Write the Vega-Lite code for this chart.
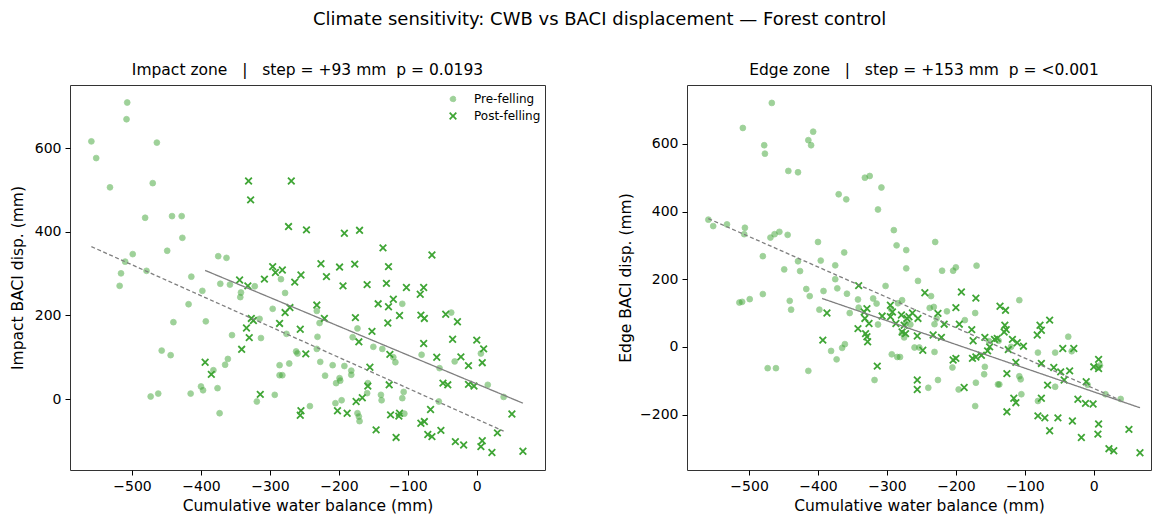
{
  "$schema": "https://vega.github.io/schema/vega-lite/v6.json",
  "background": "white",
  "padding": {"left": 9, "top": 11, "right": 0, "bottom": 0},
  "title": {
    "text": "Climate sensitivity: CWB vs BACI displacement — Forest control",
    "font": "DejaVu Sans", "fontSize": 18, "fontWeight": "normal", "color": "#000000",
    "anchor": "middle", "offset": 33, "dx": 19
  },
  "bounds": "flush",
  "spacing": 142,
  "datasets": {
    "impact": [
      {"series":"Pre-felling","cwb":-507,"disp":710},{"series":"Pre-felling","cwb":-508,"disp":670},{"series":"Pre-felling","cwb":-559,"disp":617},{"series":"Pre-felling","cwb":-552,"disp":577},
      {"series":"Pre-felling","cwb":-464,"disp":614},{"series":"Pre-felling","cwb":-532,"disp":507},{"series":"Pre-felling","cwb":-470,"disp":517},{"series":"Pre-felling","cwb":-481,"disp":434},
      {"series":"Pre-felling","cwb":-442,"disp":438},{"series":"Pre-felling","cwb":-428,"disp":438},{"series":"Pre-felling","cwb":-427,"disp":386},{"series":"Pre-felling","cwb":-449,"disp":355},
      {"series":"Pre-felling","cwb":-499,"disp":347},{"series":"Pre-felling","cwb":-510,"disp":329},{"series":"Pre-felling","cwb":-516,"disp":301},{"series":"Pre-felling","cwb":-479,"disp":307},
      {"series":"Pre-felling","cwb":-414,"disp":293},{"series":"Pre-felling","cwb":-375,"disp":342},{"series":"Pre-felling","cwb":-363,"disp":338},{"series":"Pre-felling","cwb":-284,"disp":287},
      {"series":"Pre-felling","cwb":-518,"disp":271},{"series":"Pre-felling","cwb":-398,"disp":259},{"series":"Pre-felling","cwb":-372,"disp":276},{"series":"Pre-felling","cwb":-358,"disp":274},
      {"series":"Pre-felling","cwb":-343,"disp":244},{"series":"Pre-felling","cwb":-342,"disp":255},{"series":"Pre-felling","cwb":-322,"disp":270},{"series":"Pre-felling","cwb":-278,"disp":254},
      {"series":"Pre-felling","cwb":-418,"disp":227},{"series":"Pre-felling","cwb":-440,"disp":184},{"series":"Pre-felling","cwb":-393,"disp":186},{"series":"Pre-felling","cwb":-355,"disp":153},
      {"series":"Pre-felling","cwb":-315,"disp":192},{"series":"Pre-felling","cwb":-313,"disp":146},{"series":"Pre-felling","cwb":-296,"disp":216},{"series":"Pre-felling","cwb":-276,"disp":156},
      {"series":"Pre-felling","cwb":-262,"disp":114},{"series":"Pre-felling","cwb":-260,"disp":109},{"series":"Pre-felling","cwb":-272,"disp":85},{"series":"Pre-felling","cwb":-286,"disp":81},
      {"series":"Pre-felling","cwb":-286,"disp":57},{"series":"Pre-felling","cwb":-282,"disp":57},{"series":"Pre-felling","cwb":-457,"disp":116},{"series":"Pre-felling","cwb":-444,"disp":105},
      {"series":"Pre-felling","cwb":-382,"disp":69},{"series":"Pre-felling","cwb":-361,"disp":96},{"series":"Pre-felling","cwb":-365,"disp":82},{"series":"Pre-felling","cwb":-473,"disp":6},
      {"series":"Pre-felling","cwb":-462,"disp":13},{"series":"Pre-felling","cwb":-415,"disp":13},{"series":"Pre-felling","cwb":-400,"disp":30},{"series":"Pre-felling","cwb":-397,"disp":21},
      {"series":"Pre-felling","cwb":-376,"disp":26},{"series":"Pre-felling","cwb":-373,"disp":-34},{"series":"Pre-felling","cwb":-319,"disp":-6},{"series":"Pre-felling","cwb":-293,"disp":10},
      {"series":"Pre-felling","cwb":-242,"disp":-17},{"series":"Pre-felling","cwb":-232,"disp":211},{"series":"Pre-felling","cwb":-228,"disp":182},{"series":"Pre-felling","cwb":-173,"disp":169},
      {"series":"Pre-felling","cwb":-231,"disp":149},{"series":"Pre-felling","cwb":-180,"disp":148},{"series":"Pre-felling","cwb":-232,"disp":120},{"series":"Pre-felling","cwb":-227,"disp":89},
      {"series":"Pre-felling","cwb":-209,"disp":81},{"series":"Pre-felling","cwb":-220,"disp":56},{"series":"Pre-felling","cwb":-204,"disp":38},{"series":"Pre-felling","cwb":-199,"disp":50},
      {"series":"Pre-felling","cwb":-198,"disp":44},{"series":"Pre-felling","cwb":-205,"disp":-10},{"series":"Pre-felling","cwb":-196,"disp":-3},{"series":"Pre-felling","cwb":-192,"disp":79},
      {"series":"Pre-felling","cwb":-182,"disp":68},{"series":"Pre-felling","cwb":-182,"disp":58},{"series":"Pre-felling","cwb":-158,"disp":38},{"series":"Pre-felling","cwb":-159,"disp":14},
      {"series":"Pre-felling","cwb":-173,"disp":-34},{"series":"Pre-felling","cwb":-171,"disp":-42},{"series":"Pre-felling","cwb":-170,"disp":-53},{"series":"Pre-felling","cwb":-150,"disp":125},
      {"series":"Pre-felling","cwb":-137,"disp":120},{"series":"Pre-felling","cwb":-121,"disp":100},{"series":"Pre-felling","cwb":-118,"disp":88},{"series":"Pre-felling","cwb":-139,"disp":10},
      {"series":"Pre-felling","cwb":-138,"disp":-3},{"series":"Pre-felling","cwb":-106,"disp":17},{"series":"Pre-felling","cwb":-108,"disp":2},{"series":"Pre-felling","cwb":-105,"disp":-35},
      {"series":"Pre-felling","cwb":-108,"disp":228},{"series":"Pre-felling","cwb":-80,"disp":106},{"series":"Pre-felling","cwb":-54,"disp":74},{"series":"Pre-felling","cwb":-55,"disp":-6},
      {"series":"Pre-felling","cwb":-37,"disp":207},{"series":"Pre-felling","cwb":-32,"disp":90},{"series":"Pre-felling","cwb":6,"disp":109},{"series":"Pre-felling","cwb":16,"disp":34},
      {"series":"Pre-felling","cwb":39,"disp":5},
      {"series":"Post-felling","cwb":-331,"disp":522},{"series":"Post-felling","cwb":-269,"disp":522},{"series":"Post-felling","cwb":-328,"disp":477},{"series":"Post-felling","cwb":-273,"disp":413},
      {"series":"Post-felling","cwb":-247,"disp":405},{"series":"Post-felling","cwb":-296,"disp":317},{"series":"Post-felling","cwb":-292,"disp":303},{"series":"Post-felling","cwb":-282,"disp":309},
      {"series":"Post-felling","cwb":-255,"disp":297},{"series":"Post-felling","cwb":-344,"disp":285},{"series":"Post-felling","cwb":-308,"disp":287},{"series":"Post-felling","cwb":-192,"disp":397},
      {"series":"Post-felling","cwb":-170,"disp":404},{"series":"Post-felling","cwb":-136,"disp":362},{"series":"Post-felling","cwb":-128,"disp":317},{"series":"Post-felling","cwb":-131,"disp":277},
      {"series":"Post-felling","cwb":-159,"disp":274},{"series":"Post-felling","cwb":-177,"disp":323},{"series":"Post-felling","cwb":-199,"disp":316},{"series":"Post-felling","cwb":-218,"disp":293},
      {"series":"Post-felling","cwb":-194,"disp":271},{"series":"Post-felling","cwb":-226,"disp":324},{"series":"Post-felling","cwb":-264,"disp":280},{"series":"Post-felling","cwb":-332,"disp":271},
      {"series":"Post-felling","cwb":-271,"disp":219},{"series":"Post-felling","cwb":-278,"disp":207},{"series":"Post-felling","cwb":-232,"disp":225},{"series":"Post-felling","cwb":-221,"disp":193},
      {"series":"Post-felling","cwb":-286,"disp":181},{"series":"Post-felling","cwb":-327,"disp":193},{"series":"Post-felling","cwb":-324,"disp":188},{"series":"Post-felling","cwb":-334,"disp":170},
      {"series":"Post-felling","cwb":-256,"disp":167},{"series":"Post-felling","cwb":-330,"disp":147},{"series":"Post-felling","cwb":-176,"disp":195},{"series":"Post-felling","cwb":-143,"disp":228},
      {"series":"Post-felling","cwb":-128,"disp":221},{"series":"Post-felling","cwb":-121,"disp":239},{"series":"Post-felling","cwb":-112,"disp":200},{"series":"Post-felling","cwb":-129,"disp":182},
      {"series":"Post-felling","cwb":-152,"disp":162},{"series":"Post-felling","cwb":-65,"disp":345},{"series":"Post-felling","cwb":-102,"disp":267},{"series":"Post-felling","cwb":-77,"disp":267},
      {"series":"Post-felling","cwb":-82,"disp":251},{"series":"Post-felling","cwb":-81,"disp":201},{"series":"Post-felling","cwb":-76,"disp":193},{"series":"Post-felling","cwb":-45,"disp":203},
      {"series":"Post-felling","cwb":-28,"disp":185},{"series":"Post-felling","cwb":-171,"disp":137},{"series":"Post-felling","cwb":-77,"disp":133},{"series":"Post-felling","cwb":-35,"disp":143},
      {"series":"Post-felling","cwb":0,"disp":141},{"series":"Post-felling","cwb":10,"disp":120},{"series":"Post-felling","cwb":8,"disp":87},{"series":"Post-felling","cwb":-23,"disp":101},
      {"series":"Post-felling","cwb":-12,"disp":80},{"series":"Post-felling","cwb":-58,"disp":100},{"series":"Post-felling","cwb":-248,"disp":108},{"series":"Post-felling","cwb":-126,"disp":107},
      {"series":"Post-felling","cwb":-155,"disp":76},{"series":"Post-felling","cwb":-127,"disp":34},{"series":"Post-felling","cwb":-158,"disp":31},{"series":"Post-felling","cwb":-166,"disp":3},
      {"series":"Post-felling","cwb":-175,"disp":-6},{"series":"Post-felling","cwb":-202,"disp":-28},{"series":"Post-felling","cwb":-188,"disp":-34},{"series":"Post-felling","cwb":-255,"disp":-28},
      {"series":"Post-felling","cwb":-256,"disp":-39},{"series":"Post-felling","cwb":-125,"disp":-38},{"series":"Post-felling","cwb":-112,"disp":-34},{"series":"Post-felling","cwb":-113,"disp":-41},
      {"series":"Post-felling","cwb":-146,"disp":-74},{"series":"Post-felling","cwb":-117,"disp":-92},{"series":"Post-felling","cwb":-81,"disp":-58},{"series":"Post-felling","cwb":-76,"disp":-54},
      {"series":"Post-felling","cwb":-67,"disp":-25},{"series":"Post-felling","cwb":-71,"disp":-85},{"series":"Post-felling","cwb":-65,"disp":-90},{"series":"Post-felling","cwb":-52,"disp":-75},
      {"series":"Post-felling","cwb":-49,"disp":38},{"series":"Post-felling","cwb":-42,"disp":34},{"series":"Post-felling","cwb":-12,"disp":35},{"series":"Post-felling","cwb":-4,"disp":31},
      {"series":"Post-felling","cwb":-31,"disp":-102},{"series":"Post-felling","cwb":-19,"disp":-110},{"series":"Post-felling","cwb":8,"disp":-100},{"series":"Post-felling","cwb":6,"disp":-114},
      {"series":"Post-felling","cwb":22,"disp":-128},{"series":"Post-felling","cwb":30,"disp":-81},{"series":"Post-felling","cwb":51,"disp":-36},{"series":"Post-felling","cwb":67,"disp":-125},
      {"series":"Post-felling","cwb":-341,"disp":119},{"series":"Post-felling","cwb":-394,"disp":88},{"series":"Post-felling","cwb":-385,"disp":59},{"series":"Post-felling","cwb":-314,"disp":11}
    ],
    "edge": [
      {"series":"Pre-felling","cwb":-467,"disp":721},{"series":"Pre-felling","cwb":-509,"disp":647},{"series":"Pre-felling","cwb":-478,"disp":596},{"series":"Pre-felling","cwb":-477,"disp":571},
      {"series":"Pre-felling","cwb":-407,"disp":636},{"series":"Pre-felling","cwb":-414,"disp":611},{"series":"Pre-felling","cwb":-410,"disp":596},{"series":"Pre-felling","cwb":-443,"disp":520},
      {"series":"Pre-felling","cwb":-429,"disp":516},{"series":"Pre-felling","cwb":-332,"disp":500},{"series":"Pre-felling","cwb":-325,"disp":505},{"series":"Pre-felling","cwb":-308,"disp":471},
      {"series":"Pre-felling","cwb":-370,"disp":451},{"series":"Pre-felling","cwb":-359,"disp":436},{"series":"Pre-felling","cwb":-313,"disp":406},{"series":"Pre-felling","cwb":-290,"disp":345},
      {"series":"Pre-felling","cwb":-286,"disp":300},{"series":"Pre-felling","cwb":-272,"disp":286},{"series":"Pre-felling","cwb":-272,"disp":232},{"series":"Pre-felling","cwb":-559,"disp":376},
      {"series":"Pre-felling","cwb":-552,"disp":357},{"series":"Pre-felling","cwb":-532,"disp":362},{"series":"Pre-felling","cwb":-506,"disp":352},{"series":"Pre-felling","cwb":-507,"disp":333},
      {"series":"Pre-felling","cwb":-469,"disp":323},{"series":"Pre-felling","cwb":-463,"disp":333},{"series":"Pre-felling","cwb":-456,"disp":340},{"series":"Pre-felling","cwb":-444,"disp":331},
      {"series":"Pre-felling","cwb":-480,"disp":268},{"series":"Pre-felling","cwb":-400,"disp":310},{"series":"Pre-felling","cwb":-396,"disp":255},{"series":"Pre-felling","cwb":-362,"disp":279},
      {"series":"Pre-felling","cwb":-375,"disp":241},{"series":"Pre-felling","cwb":-449,"disp":229},{"series":"Pre-felling","cwb":-426,"disp":224},{"series":"Pre-felling","cwb":-375,"disp":200},
      {"series":"Pre-felling","cwb":-230,"disp":310},{"series":"Pre-felling","cwb":-220,"disp":225},{"series":"Pre-felling","cwb":-204,"disp":225},{"series":"Pre-felling","cwb":-200,"disp":235},
      {"series":"Pre-felling","cwb":-170,"disp":240},{"series":"Pre-felling","cwb":-255,"disp":195},{"series":"Pre-felling","cwb":-429,"disp":253},{"series":"Pre-felling","cwb":-372,"disp":173},
      {"series":"Pre-felling","cwb":-417,"disp":171},{"series":"Pre-felling","cwb":-412,"disp":150},{"series":"Pre-felling","cwb":-392,"disp":165},{"series":"Pre-felling","cwb":-358,"disp":157},
      {"series":"Pre-felling","cwb":-480,"disp":156},{"series":"Pre-felling","cwb":-499,"disp":141},{"series":"Pre-felling","cwb":-510,"disp":133},{"series":"Pre-felling","cwb":-514,"disp":131},
      {"series":"Pre-felling","cwb":-441,"disp":136},{"series":"Pre-felling","cwb":-439,"disp":110},{"series":"Pre-felling","cwb":-398,"disp":110},{"series":"Pre-felling","cwb":-342,"disp":140},
      {"series":"Pre-felling","cwb":-341,"disp":116},{"series":"Pre-felling","cwb":-320,"disp":143},{"series":"Pre-felling","cwb":-315,"disp":128},{"series":"Pre-felling","cwb":-302,"disp":180},
      {"series":"Pre-felling","cwb":-278,"disp":138},{"series":"Pre-felling","cwb":-354,"disp":100},{"series":"Pre-felling","cwb":-313,"disp":66},{"series":"Pre-felling","cwb":-381,"disp":-12},
      {"series":"Pre-felling","cwb":-365,"disp":-3},{"series":"Pre-felling","cwb":-361,"disp":8},{"series":"Pre-felling","cwb":-373,"disp":-37},{"series":"Pre-felling","cwb":-293,"disp":-22},
      {"series":"Pre-felling","cwb":-285,"disp":-30},{"series":"Pre-felling","cwb":-281,"disp":-30},{"series":"Pre-felling","cwb":-473,"disp":-63},{"series":"Pre-felling","cwb":-461,"disp":-63},
      {"series":"Pre-felling","cwb":-414,"disp":-71},{"series":"Pre-felling","cwb":-318,"disp":-98},{"series":"Pre-felling","cwb":-275,"disp":28},{"series":"Pre-felling","cwb":-278,"disp":40},
      {"series":"Pre-felling","cwb":-284,"disp":129},{"series":"Pre-felling","cwb":-294,"disp":112},{"series":"Pre-felling","cwb":-236,"disp":150},{"series":"Pre-felling","cwb":-238,"disp":115},
      {"series":"Pre-felling","cwb":-232,"disp":118},{"series":"Pre-felling","cwb":-213,"disp":105},{"series":"Pre-felling","cwb":-172,"disp":100},{"series":"Pre-felling","cwb":-108,"disp":138},
      {"series":"Pre-felling","cwb":-231,"disp":67},{"series":"Pre-felling","cwb":-228,"disp":84},{"series":"Pre-felling","cwb":-273,"disp":69},{"series":"Pre-felling","cwb":-266,"disp":66},
      {"series":"Pre-felling","cwb":-187,"disp":79},{"series":"Pre-felling","cwb":-260,"disp":-2},{"series":"Pre-felling","cwb":-253,"disp":-2},{"series":"Pre-felling","cwb":-231,"disp":-15},
      {"series":"Pre-felling","cwb":-205,"disp":-61},{"series":"Pre-felling","cwb":-158,"disp":-59},{"series":"Pre-felling","cwb":-159,"disp":-81},{"series":"Pre-felling","cwb":-171,"disp":-106},
      {"series":"Pre-felling","cwb":-240,"disp":-121},{"series":"Pre-felling","cwb":-226,"disp":-98},{"series":"Pre-felling","cwb":-196,"disp":-126},{"series":"Pre-felling","cwb":-172,"disp":-175},
      {"series":"Pre-felling","cwb":-139,"disp":-111},{"series":"Pre-felling","cwb":-137,"disp":-111},{"series":"Pre-felling","cwb":-108,"disp":-87},{"series":"Pre-felling","cwb":-106,"disp":-96},
      {"series":"Pre-felling","cwb":-105,"disp":-140},{"series":"Pre-felling","cwb":-152,"disp":17},{"series":"Pre-felling","cwb":-138,"disp":18},{"series":"Pre-felling","cwb":-120,"disp":0},
      {"series":"Pre-felling","cwb":-81,"disp":-17},{"series":"Pre-felling","cwb":-56,"disp":-17},{"series":"Pre-felling","cwb":-37,"disp":30},{"series":"Pre-felling","cwb":-32,"disp":-13},
      {"series":"Pre-felling","cwb":-81,"disp":-160},{"series":"Pre-felling","cwb":-56,"disp":-118},{"series":"Pre-felling","cwb":9,"disp":-55},{"series":"Pre-felling","cwb":6,"disp":-61},
      {"series":"Pre-felling","cwb":17,"disp":-140},{"series":"Pre-felling","cwb":39,"disp":-154},{"series":"Pre-felling","cwb":-9,"disp":-112},
      {"series":"Post-felling","cwb":-341,"disp":181},{"series":"Post-felling","cwb":-387,"disp":100},{"series":"Post-felling","cwb":-393,"disp":20},{"series":"Post-felling","cwb":-329,"disp":113},
      {"series":"Post-felling","cwb":-333,"disp":103},{"series":"Post-felling","cwb":-332,"disp":84},{"series":"Post-felling","cwb":-326,"disp":69},{"series":"Post-felling","cwb":-342,"disp":54},
      {"series":"Post-felling","cwb":-331,"disp":39},{"series":"Post-felling","cwb":-329,"disp":30},{"series":"Post-felling","cwb":-328,"disp":15},{"series":"Post-felling","cwb":-314,"disp":-57},
      {"series":"Post-felling","cwb":-295,"disp":123},{"series":"Post-felling","cwb":-292,"disp":103},{"series":"Post-felling","cwb":-307,"disp":91},{"series":"Post-felling","cwb":-295,"disp":89},
      {"series":"Post-felling","cwb":-287,"disp":69},{"series":"Post-felling","cwb":-278,"disp":44},{"series":"Post-felling","cwb":-273,"disp":39},{"series":"Post-felling","cwb":-271,"disp":84},
      {"series":"Post-felling","cwb":-275,"disp":64},{"series":"Post-felling","cwb":-245,"disp":160},{"series":"Post-felling","cwb":-192,"disp":162},{"series":"Post-felling","cwb":-171,"disp":144},
      {"series":"Post-felling","cwb":-200,"disp":116},{"series":"Post-felling","cwb":-263,"disp":100},{"series":"Post-felling","cwb":-255,"disp":84},{"series":"Post-felling","cwb":-268,"disp":89},
      {"series":"Post-felling","cwb":-279,"disp":94},{"series":"Post-felling","cwb":-226,"disp":99},{"series":"Post-felling","cwb":-217,"disp":67},{"series":"Post-felling","cwb":-195,"disp":67},
      {"series":"Post-felling","cwb":-256,"disp":32},{"series":"Post-felling","cwb":-233,"disp":35},{"series":"Post-felling","cwb":-221,"disp":28},{"series":"Post-felling","cwb":-248,"disp":-10},
      {"series":"Post-felling","cwb":-177,"disp":51},{"series":"Post-felling","cwb":-175,"disp":18},{"series":"Post-felling","cwb":-204,"disp":-39},{"series":"Post-felling","cwb":-200,"disp":-34},
      {"series":"Post-felling","cwb":-188,"disp":-120},{"series":"Post-felling","cwb":-256,"disp":-98},{"series":"Post-felling","cwb":-256,"disp":-126},{"series":"Post-felling","cwb":-176,"disp":-34},
      {"series":"Post-felling","cwb":-171,"disp":-30},{"series":"Post-felling","cwb":-163,"disp":-25},{"series":"Post-felling","cwb":-158,"disp":28},{"series":"Post-felling","cwb":-154,"disp":-12},
      {"series":"Post-felling","cwb":-151,"disp":0},{"series":"Post-felling","cwb":-144,"disp":22},{"series":"Post-felling","cwb":-140,"disp":25},{"series":"Post-felling","cwb":-136,"disp":120},
      {"series":"Post-felling","cwb":-128,"disp":108},{"series":"Post-felling","cwb":-129,"disp":64},{"series":"Post-felling","cwb":-127,"disp":51},{"series":"Post-felling","cwb":-130,"disp":44},
      {"series":"Post-felling","cwb":-118,"disp":22},{"series":"Post-felling","cwb":-111,"disp":12},{"series":"Post-felling","cwb":-102,"disp":2},{"series":"Post-felling","cwb":-124,"disp":-8},
      {"series":"Post-felling","cwb":-113,"disp":-46},{"series":"Post-felling","cwb":-126,"disp":-79},{"series":"Post-felling","cwb":-116,"disp":-152},{"series":"Post-felling","cwb":-113,"disp":-165},
      {"series":"Post-felling","cwb":-126,"disp":-192},{"series":"Post-felling","cwb":-82,"disp":35},{"series":"Post-felling","cwb":-76,"disp":49},{"series":"Post-felling","cwb":-78,"disp":64},
      {"series":"Post-felling","cwb":-64,"disp":79},{"series":"Post-felling","cwb":-76,"disp":-49},{"series":"Post-felling","cwb":-67,"disp":-113},{"series":"Post-felling","cwb":-76,"disp":-152},
      {"series":"Post-felling","cwb":-81,"disp":-204},{"series":"Post-felling","cwb":-71,"disp":-210},{"series":"Post-felling","cwb":-64,"disp":-248},{"series":"Post-felling","cwb":-52,"disp":-210},
      {"series":"Post-felling","cwb":-31,"disp":-219},{"series":"Post-felling","cwb":-58,"disp":-61},{"series":"Post-felling","cwb":-48,"disp":-74},{"series":"Post-felling","cwb":-35,"disp":-71},
      {"series":"Post-felling","cwb":-45,"disp":-5},{"series":"Post-felling","cwb":-29,"disp":-5},{"series":"Post-felling","cwb":-43,"disp":-98},{"series":"Post-felling","cwb":-23,"disp":-155},
      {"series":"Post-felling","cwb":-12,"disp":-167},{"series":"Post-felling","cwb":-1,"disp":-169},{"series":"Post-felling","cwb":-18,"disp":-268},{"series":"Post-felling","cwb":-11,"disp":-103},
      {"series":"Post-felling","cwb":0,"disp":-59},{"series":"Post-felling","cwb":7,"disp":-37},{"series":"Post-felling","cwb":7,"disp":-64},{"series":"Post-felling","cwb":7,"disp":-228},
      {"series":"Post-felling","cwb":6,"disp":-258},{"series":"Post-felling","cwb":22,"disp":-301},{"series":"Post-felling","cwb":29,"disp":-307},{"series":"Post-felling","cwb":51,"disp":-244},
      {"series":"Post-felling","cwb":67,"disp":-313}
    ],
    "impactFit": [
      {"series":"Pre-felling","cwb":-559,"disp":365},{"series":"Pre-felling","cwb":39,"disp":-77},
      {"series":"Post-felling","cwb":-394,"disp":308},{"series":"Post-felling","cwb":67,"disp":-10}
    ],
    "edgeFit": [
      {"series":"Pre-felling","cwb":-559,"disp":379},{"series":"Pre-felling","cwb":39,"disp":-158},
      {"series":"Post-felling","cwb":-394,"disp":143},{"series":"Post-felling","cwb":67,"disp":-180}
    ]
  },
  "hconcat": [
    {
      "width": 475,
      "height": 385,
      "title": {"text": "Impact zone\u00a0\u00a0\u00a0|\u00a0\u00a0\u00a0step = +93 mm\u00a0\u00a0p = 0.0193"},
      "layer": [
        {
          "data": {"name": "impact"},
          "mark": {"type": "point", "filled": true, "fill": "#3fa535", "stroke": "#3fa535"},
          "encoding": {
            "x": {"field": "cwb", "type": "quantitative", "scale": {"domain": [-590, 99], "nice": false, "zero": false},
                  "axis": {"values": [-500, -400, -300, -200, -100, 0], "title": "Cumulative water balance (mm)"}},
            "y": {"field": "disp", "type": "quantitative", "scale": {"domain": [-170, 752], "nice": false, "zero": false},
                  "axis": {"values": [0, 200, 400, 600], "title": "Impact BACI disp. (mm)"}},
            "shape": {"field": "series", "type": "nominal",
                      "scale": {"domain": ["Pre-felling", "Post-felling"], "range": ["circle", "M-1,-1L1,1M-1,1L1,-1"]},
                      "legend": {"title": null, "orient": "none", "legendX": 377, "legendY": 8}},
            "opacity": {"field": "series", "type": "nominal",
                        "scale": {"type": "point", "padding": 0, "domain": ["Pre-felling", "Post-felling"], "range": [0.5, 1]},
                        "legend": {"title": null, "orient": "none", "legendX": 377, "legendY": 8}},
            "strokeWidth": {"field": "series", "type": "nominal",
                            "scale": {"type": "point", "padding": 0, "domain": ["Pre-felling", "Post-felling"], "range": [0.8, 1.8]},
                            "legend": {"title": null, "orient": "none", "legendX": 377, "legendY": 8}},
            "size": {"field": "series", "type": "nominal",
                     "scale": {"type": "point", "padding": 0, "domain": ["Pre-felling", "Post-felling"], "range": [34, 44]},
                     "legend": {"title": null, "orient": "none", "legendX": 377, "legendY": 8}}
          }
        },
        {
          "data": {"name": "impactFit"},
          "mark": {"type": "line", "color": "#7f7f7f", "strokeWidth": 1.3},
          "encoding": {
            "x": {"field": "cwb", "type": "quantitative"},
            "y": {"field": "disp", "type": "quantitative"},
            "detail": {"field": "series", "type": "nominal"},
            "strokeDash": {"field": "series", "type": "nominal",
                           "scale": {"domain": ["Pre-felling", "Post-felling"], "range": [[4, 2.5], [1, 0]]}, "legend": null}
          }
        }
      ]
    },
    {
      "width": 464,
      "height": 385,
      "title": {"text": "Edge zone\u00a0\u00a0\u00a0|\u00a0\u00a0\u00a0step = +153 mm\u00a0\u00a0p = <0.001", "dx": 5},
      "layer": [
        {
          "data": {"name": "edge"},
          "mark": {"type": "point", "filled": true, "fill": "#3fa535", "stroke": "#3fa535"},
          "encoding": {
            "x": {"field": "cwb", "type": "quantitative", "scale": {"domain": [-590, 83], "nice": false, "zero": false},
                  "axis": {"values": [-500, -400, -300, -200, -100, 0], "title": "Cumulative water balance (mm)"}},
            "y": {"field": "disp", "type": "quantitative", "scale": {"domain": [-364, 774], "nice": false, "zero": false},
                  "axis": {"values": [-200, 0, 200, 400, 600], "title": "Edge BACI disp. (mm)", "titlePadding": 6}},
            "shape": {"field": "series", "type": "nominal",
                      "scale": {"domain": ["Pre-felling", "Post-felling"], "range": ["circle", "M-1,-1L1,1M-1,1L1,-1"]}, "legend": null},
            "opacity": {"field": "series", "type": "nominal",
                        "scale": {"type": "point", "padding": 0, "domain": ["Pre-felling", "Post-felling"], "range": [0.5, 1]}, "legend": null},
            "strokeWidth": {"field": "series", "type": "nominal",
                            "scale": {"type": "point", "padding": 0, "domain": ["Pre-felling", "Post-felling"], "range": [0.8, 1.8]}, "legend": null},
            "size": {"field": "series", "type": "nominal",
                     "scale": {"type": "point", "padding": 0, "domain": ["Pre-felling", "Post-felling"], "range": [34, 44]}, "legend": null}
          }
        },
        {
          "data": {"name": "edgeFit"},
          "mark": {"type": "line", "color": "#7f7f7f", "strokeWidth": 1.3},
          "encoding": {
            "x": {"field": "cwb", "type": "quantitative"},
            "y": {"field": "disp", "type": "quantitative"},
            "detail": {"field": "series", "type": "nominal"},
            "strokeDash": {"field": "series", "type": "nominal",
                           "scale": {"domain": ["Pre-felling", "Post-felling"], "range": [[4, 2.5], [1, 0]]}, "legend": null}
          }
        }
      ]
    }
  ],
  "config": {
    "font": "DejaVu Sans",
    "view": {"stroke": "#333333", "strokeWidth": 1},
    "axis": {
      "domain": false, "grid": false,
      "tickColor": "#000000", "tickSize": 5, "tickWidth": 1,
      "labelFont": "DejaVu Sans", "labelFontSize": 14, "labelColor": "#000000", "labelPadding": 4,
      "titleFont": "DejaVu Sans", "titleFontSize": 15.5, "titleFontWeight": "normal", "titleColor": "#000000"
    },
    "axisX": {"titlePadding": 5},
    "axisY": {"titlePadding": 9},
    "title": {"font": "DejaVu Sans", "fontSize": 15.5, "fontWeight": "normal", "color": "#000000", "offset": 7},
    "legend": {"labelFont": "DejaVu Sans", "labelFontSize": 12, "labelColor": "#000000", "labelOffset": 15, "rowPadding": 4, "padding": 0}
  }
}
